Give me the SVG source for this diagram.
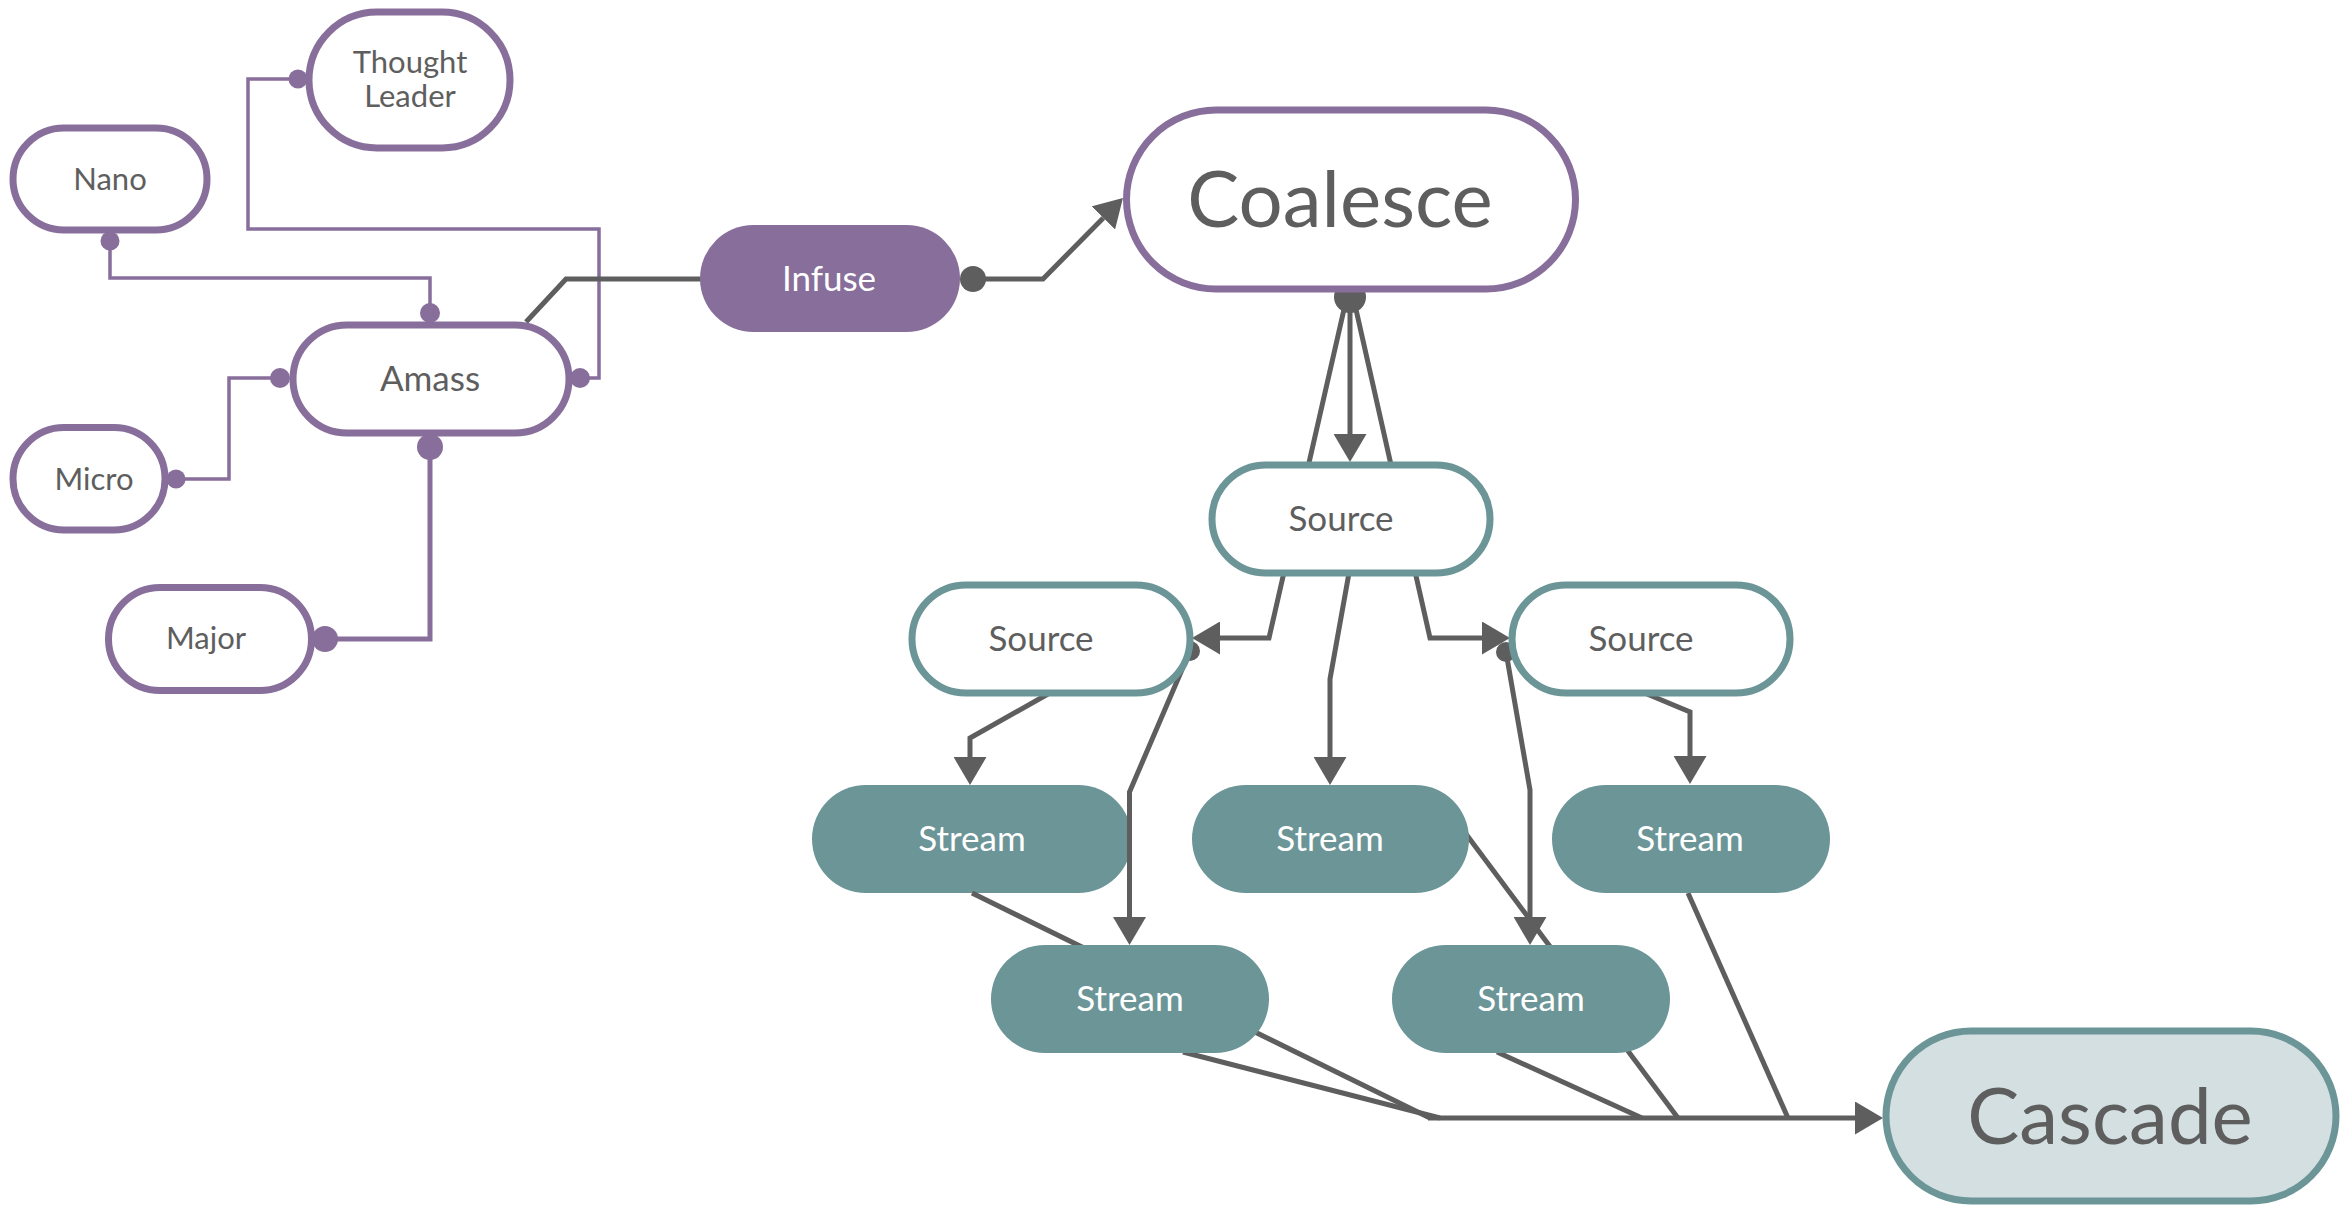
<svg xmlns="http://www.w3.org/2000/svg" width="2352" height="1215" viewBox="0 0 2352 1215">
  <defs>
    <style>
      .pill-purple { fill: #ffffff; stroke: #876e9b; stroke-width: 7; }
      .pill-teal { fill: #ffffff; stroke: #6b9597; stroke-width: 7; }
      .fill-purple { fill: #876e9b; }
      .fill-teal { fill: #6b9597; }
      .pill-end { fill: #d3dfe1; stroke: #6b9597; stroke-width: 7; }
      .lbl { font-family: Lato, "Liberation Sans", sans-serif; fill: #5e5e5e; text-anchor: middle; }
      .lbl-w { font-family: Lato, "Liberation Sans", sans-serif; fill: #ffffff; text-anchor: middle; }
      .s31 { font-size: 31px; }
      .s35 { font-size: 35px; }
      .s78 { font-size: 78px; }
      .wire { fill: none; stroke: #5e5e5e; stroke-width: 5; stroke-linejoin: miter; }
      .link { fill: none; stroke: #876e9b; stroke-width: 3.5; }
      .link-bold { fill: none; stroke: #876e9b; stroke-width: 5; }
      .dot { fill: #5e5e5e; }
      .pdot { fill: #876e9b; }
    </style>
    <marker id="arrow" viewBox="0 0 28 33" refX="0" refY="16.5" markerWidth="28" markerHeight="33" markerUnits="userSpaceOnUse" orient="auto">
      <path d="M0,0 L28,16.5 L0,33 z" fill="#5e5e5e"/>
    </marker>
  </defs>

  <rect width="2352" height="1215" fill="#ffffff"/>

  <!-- drawn beneath the wires so the Stream 4 feed line shows over it -->
  <g id="stream-1">
    <rect class="fill-teal" x="812" y="785" width="320" height="108" rx="54"/>
    <text class="lbl-w s35" x="972" y="851">Stream</text>
  </g>

  <g id="connectors">
    <!-- purple attachments around Amass -->
    <path class="link" d="M110,241 L110,278 L430,278 L430,313"/>
    <circle class="pdot" cx="110" cy="241" r="9.5"/>
    <circle class="pdot" cx="430" cy="313" r="10"/>

    <path class="link" d="M298,79 L248,79 L248,229 L599,229 L599,378 L580,378"/>
    <circle class="pdot" cx="298" cy="79" r="9.5"/>
    <circle class="pdot" cx="580" cy="378" r="10"/>

    <path class="link" d="M176,479 L229,479 L229,378 L280,378"/>
    <circle class="pdot" cx="176" cy="479" r="9.5"/>
    <circle class="pdot" cx="280" cy="378" r="10"/>

    <path class="link-bold" d="M325,639 L430,639 L430,447"/>
    <circle class="pdot" cx="325" cy="639" r="13"/>
    <circle class="pdot" cx="430" cy="447" r="13"/>

    <!-- Amass -> Infuse -> Coalesce -->
    <path class="wire" d="M526,322 L566,279 L702,279"/>
    <path class="wire" d="M973,279 L1043,279 L1103.3,217.9" marker-end="url(#arrow)"/>
    <circle class="dot" cx="973" cy="279" r="13"/>

    <!-- Coalesce fan-out -->
    <path class="wire" d="M1345,305 L1269,638 L1220,638" marker-end="url(#arrow)"/>
    <path class="wire" d="M1350,305 L1350,434" marker-end="url(#arrow)"/>
    <path class="wire" d="M1355,305 L1430,638 L1482,638" marker-end="url(#arrow)"/>
    <circle class="dot" cx="1350" cy="297" r="16"/>

    <!-- Sources -> Streams -->
    <path class="wire" d="M1349,573 L1330,679 L1330,757" marker-end="url(#arrow)"/>
    <path class="wire" d="M1048,694 L970,738 L970,757" marker-end="url(#arrow)"/>
    <path class="wire" d="M1190,651 L1129.5,792 L1129.5,917" marker-end="url(#arrow)"/>
    <circle class="dot" cx="1190" cy="651" r="10"/>
    <path class="wire" d="M1647,694 L1690,712 L1690,756" marker-end="url(#arrow)"/>
    <path class="wire" d="M1506,652 L1530,790 L1530,917" marker-end="url(#arrow)"/>
    <circle class="dot" cx="1506" cy="652" r="10"/>

    <!-- Streams merge into Cascade -->
    <path class="wire" d="M972,893 L1430,1118"/>
    <path class="wire" d="M1183,1052 L1440,1118"/>
    <path class="wire" d="M1497,1052 L1642,1118"/>
    <path class="wire" d="M1466,834 L1678,1118"/>
    <path class="wire" d="M1688,893 L1788,1118"/>
    <path class="wire" d="M1428,1118 L1855,1118" marker-end="url(#arrow)"/>
  </g>

  <g id="thought-leader">
    <rect class="pill-purple" x="309" y="12" width="201" height="136" rx="68"/>
    <text class="lbl s31" x="410" y="73">Thought</text>
    <text class="lbl s31" x="410" y="107">Leader</text>
  </g>
  <g id="nano">
    <rect class="pill-purple" x="13" y="128" width="194" height="102" rx="51"/>
    <text class="lbl s31" x="110" y="190">Nano</text>
  </g>
  <g id="amass">
    <rect class="pill-purple" x="293" y="325" width="276" height="108" rx="54"/>
    <text class="lbl s35" x="430" y="391">Amass</text>
  </g>
  <g id="micro">
    <rect class="pill-purple" x="13" y="427.5" width="152" height="102.5" rx="51"/>
    <text class="lbl s31" x="94" y="490">Micro</text>
  </g>
  <g id="major">
    <rect class="pill-purple" x="108.5" y="587.5" width="203" height="103" rx="51.5"/>
    <text class="lbl s31" x="206" y="649">Major</text>
  </g>
  <g id="infuse">
    <rect class="fill-purple" x="700" y="225" width="260" height="107" rx="53.5"/>
    <text class="lbl-w s35" x="829" y="291">Infuse</text>
  </g>
  <g id="coalesce">
    <rect class="pill-purple" x="1126.5" y="110" width="449" height="179" rx="89.5"/>
    <text class="lbl s78" x="1340" y="227">Coalesce</text>
  </g>
  <g id="source">
    <rect class="pill-teal" x="1212" y="465" width="278" height="108" rx="54"/>
    <text class="lbl s35" x="1341" y="531">Source</text>
  </g>
  <g id="source-left">
    <rect class="pill-teal" x="912" y="585" width="278" height="108" rx="54"/>
    <text class="lbl s35" x="1041" y="651">Source</text>
  </g>
  <g id="source-right">
    <rect class="pill-teal" x="1512" y="585" width="278" height="108" rx="54"/>
    <text class="lbl s35" x="1641" y="651">Source</text>
  </g>
  <g id="stream-2">
    <rect class="fill-teal" x="1192" y="785" width="277" height="108" rx="54"/>
    <text class="lbl-w s35" x="1330" y="851">Stream</text>
  </g>
  <g id="stream-3">
    <rect class="fill-teal" x="1552" y="785" width="278" height="108" rx="54"/>
    <text class="lbl-w s35" x="1690" y="851">Stream</text>
  </g>
  <g id="stream-4">
    <rect class="fill-teal" x="991" y="945" width="278" height="108" rx="54"/>
    <text class="lbl-w s35" x="1130" y="1011">Stream</text>
  </g>
  <g id="stream-5">
    <rect class="fill-teal" x="1392" y="945" width="278" height="108" rx="54"/>
    <text class="lbl-w s35" x="1531" y="1011">Stream</text>
  </g>
  <g id="cascade">
    <rect class="pill-end" x="1886" y="1031" width="450" height="170" rx="85"/>
    <text class="lbl s78" x="2110" y="1144">Cascade</text>
  </g>
</svg>
